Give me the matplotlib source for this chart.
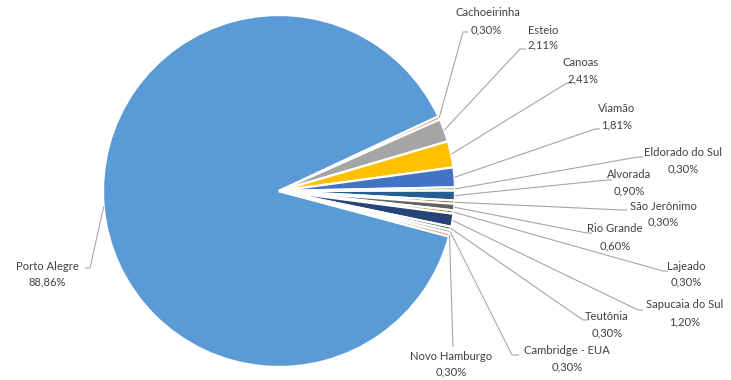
import numpy as np
import matplotlib
matplotlib.use("Agg")
import matplotlib.pyplot as plt

# Share of records by municipality (%)
cities = ["Porto Alegre", "Cachoeirinha", "Esteio", "Canoas", "Viamão",
          "Eldorado do Sul", "Alvorada", "São Jerônimo", "Rio Grande",
          "Lajeado", "Sapucaia do Sul", "Teutônia", "Cambridge - EUA",
          "Novo Hamburgo"]
shares = [88.86, 0.30, 2.11, 2.41, 1.81, 0.30, 0.90, 0.30, 0.60,
          0.30, 1.20, 0.30, 0.30, 0.30]

colors = ["#5B9BD5", "#ED7D31", "#A5A5A5", "#FFC000", "#4472C4", "#70AD47",
          "#255E91", "#9E480E", "#636363", "#997300", "#264478", "#43682B",
          "#7CAFDD", "#F1975A"]

# Label placement in pixel coordinates (y grows downward):
# name centre, percentage centre, and the elbow where the leader line meets the label
name_xy = [(47, 267), (488, 13), (543, 30), (581, 63), (617, 109), (683, 153),
           (629, 175), (663, 206), (615, 229), (686, 266), (685, 305),
           (607, 317), (567, 350), (451, 356)]
pct_xy = [(47, 282), (486, 30), (543, 45), (583, 79), (617, 125), (683, 169),
          (629, 191), (663, 222), (615, 246), (686, 282), (685, 322),
          (607, 333), (567, 367), (451, 372)]
elbow_xy = [(90, 268), (463, 32), (520, 49), (567, 83), (595, 129), (638, 157),
            (607, 180), (622, 210), (587, 233), (663, 271), (638, 310),
            (583, 320), (512, 355), (453, 347)]
elbow_end_x = [85, 468, 526, 572, 600, 643, 612, 627, 592, 668, 643, 588, 519, 453]

W, H = 731, 380
center = (279, 191)
radius = 176

fig = plt.figure(figsize=(W / 100, H / 100), dpi=100)
ax = fig.add_axes([0, 0, 1, 1])

explode = [0.0] + [0.018] * (len(shares) - 1)
wedges, _ = ax.pie(shares, colors=colors, startangle=15, counterclock=True,
                   center=center, radius=radius, explode=explode,
                   wedgeprops=dict(edgecolor="white", linewidth=1.6))

ax.set_xlim(0, W)
ax.set_ylim(H, 0)
ax.set_aspect("equal")
ax.axis("off")

text_color = "#404040"
line_color = "#A6A6A6"
font = dict(family=["Lato", "DejaVu Sans"], fontsize=8.1, color=text_color,
            ha="center", va="center")

for i, w in enumerate(wedges):
    mid = np.deg2rad((w.theta1 + w.theta2) / 2)
    cx, cy = w.center
    px = cx + w.r * np.cos(mid)
    py = cy + w.r * np.sin(mid)
    ex, ey = elbow_xy[i]
    ax.plot([px, ex, elbow_end_x[i]], [py, ey, ey], color=line_color,
            linewidth=0.8, solid_capstyle="butt", zorder=1)
    pct = f"{shares[i]:.2f}".replace(".", ",") + "%"
    ax.text(*name_xy[i], cities[i], **font)
    ax.text(*pct_xy[i], pct, **font)

fig.savefig("out.png", dpi=100, facecolor="white")
